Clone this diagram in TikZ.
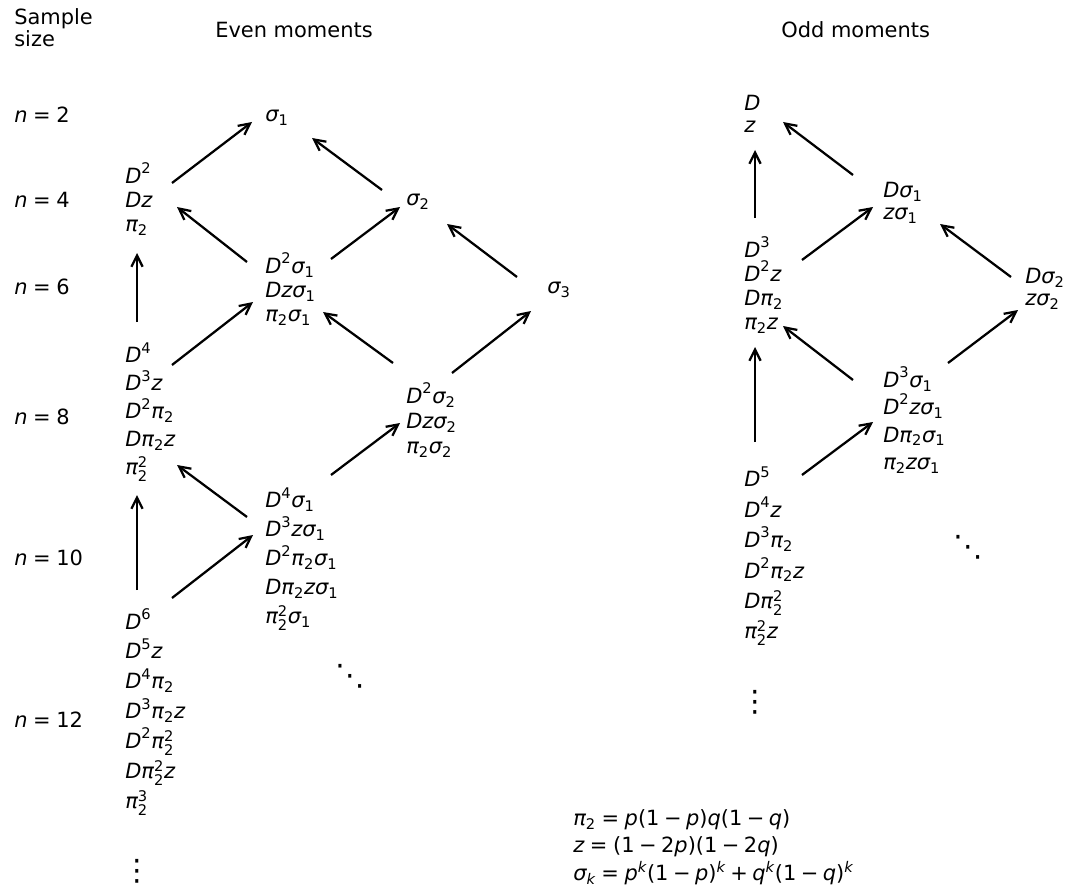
\documentclass[tikz,border=0pt]{standalone}
\usepackage{amsmath}
\usepackage{fontspec}
\setmainfont{DejaVu Sans}[ItalicFont={DejaVu Sans Oblique}]
\usetikzlibrary{arrows.meta}
\newcommand{\vD}{\textit{D}}
\newcommand{\vz}{\textit{z}}
\newcommand{\vn}{\textit{n}}
\newcommand{\vp}{\textit{p}}
\newcommand{\vq}{\textit{q}}
\newcommand{\vk}{\textit{k}}
\newcommand{\vpi}{\textit{π}}
\newcommand{\vsig}{\textit{σ}}
\newcommand{\dg}[1]{\textup{#1}}
\newcommand{\mi}{\mathbin{\textup{−}}}
\newcommand{\pl}{\mathbin{\textup{+}}}
\newcommand{\eq}{\mathrel{\textup{=}}}
\newcommand{\lp}{\textup{(}}
\newcommand{\rp}{\textup{)}}
\begin{document}
\begin{tikzpicture}[x=0.025cm, y=-0.025cm,
                    every node/.style = {anchor=west, inner sep=0pt, align=left,
                                         font={\fontsize{14.9}{17.1pt}\selectfont\lineskiplimit=-20pt}},
                    sp/.style = {font={\fontsize{14.9}{#1}\selectfont\lineskiplimit=-20pt}},
                    dots/.style = {anchor=center, font=\fontsize{21}{21}\selectfont},
                    every edge/.style = {draw, line width=1.6pt, -{Straight Barb[length=8pt, width=8pt]}}]
    \useasboundingbox (0,0) rectangle (1065,893);
    \node (size) at (14,28) [sp=15.6pt] {Sample\\size};
    \node (even) at (215,30) {Even moments};
    \node (odd)  at (781,30) {Odd moments};
    \node (n2)  at (14,115) {$\vn \eq \dg{2}$};
    \node (n4)  at (14,200) {$\vn \eq \dg{4}$};
    \node (n6)  at (14,287) {$\vn \eq \dg{6}$};
    \node (n8)  at (14,417) {$\vn \eq \dg{8}$};
    \node (n10) at (14,558) {$\vn \eq \dg{10}$};
    \node (n12) at (14,720) {$\vn \eq \dg{12}$};
    \node (s1)   at (265,118) {$\vsig_{\dg1}$};
    \node (d2)   at (125,199) {$\vD^{\dg2}$\\$\vD\vz$\\$\vpi_{\dg2}$};
    \node (s2)   at (406,202) {$\vsig_{\dg2}$};
    \node (d2s1) at (265,289) {$\vD^{\dg2}\vsig_{\dg1}$\\$\vD\vz\vsig_{\dg1}$\\$\vpi_{\dg2}\vsig_{\dg1}$};
    \node (s3)   at (547,290) {$\vsig_{\dg3}$};
    \node (d4)   at (125,412) [sp=19.9pt] {$\vD^{\dg4}$\\$\vD^{\dg3}\vz$\\$\vD^{\dg2}\vpi_{\dg2}$\\$\vD\vpi_{\dg2}\vz$\\$\vpi_{\dg2}^{\dg2}$};
    \node (d2s2) at (406,420) [sp=17.8pt] {$\vD^{\dg2}\vsig_{\dg2}$\\$\vD\vz\vsig_{\dg2}$\\$\vpi_{\dg2}\vsig_{\dg2}$};
    \node (d4s1) at (265,559) [sp=20.6pt] {$\vD^{\dg4}\vsig_{\dg1}$\\$\vD^{\dg3}\vz\vsig_{\dg1}$\\$\vD^{\dg2}\vpi_{\dg2}\vsig_{\dg1}$\\$\vD\vpi_{\dg2}\vz\vsig_{\dg1}$\\$\vpi_{\dg2}^{\dg2}\vsig_{\dg1}$};
    \node (d6)   at (125,712) [sp=21.3pt] {$\vD^{\dg6}$\\$\vD^{\dg5}\vz$\\$\vD^{\dg4}\vpi_{\dg2}$\\$\vD^{\dg3}\vpi_{\dg2}\vz$\\$\vD^{\dg2}\vpi_{\dg2}^{\dg2}$\\$\vD\vpi_{\dg2}^{\dg2}\vz$\\$\vpi_{\dg2}^{\dg3}$};
    \node (vd1)  at (137,871) [dots] {⋮};
    \node (dd1)  at (350,676) [dots] {⋱};
    \node (o1)   at (744,114) [sp=15.6pt] {$\vD$\\$\vz$};
    \node (os1)  at (883,203) [sp=15.6pt] {$\vD\vsig_{\dg1}$\\$\vz\vsig_{\dg1}$};
    \node (o3)   at (744,285) {$\vD^{\dg3}$\\$\vD^{\dg2}\vz$\\$\vD\vpi_{\dg2}$\\$\vpi_{\dg2}\vz$};
    \node (os2)  at (1025,289) [sp=15.6pt] {$\vD\vsig_{\dg2}$\\$\vz\vsig_{\dg2}$};
    \node (o3s1) at (883,420) [sp=19.4pt] {$\vD^{\dg3}\vsig_{\dg1}$\\$\vD^{\dg2}\vz\vsig_{\dg1}$\\$\vD\vpi_{\dg2}\vsig_{\dg1}$\\$\vpi_{\dg2}\vz\vsig_{\dg1}$};
    \node (o5)   at (744,556) [sp=21.6pt] {$\vD^{\dg5}$\\$\vD^{\dg4}\vz$\\$\vD^{\dg3}\vpi_{\dg2}$\\$\vD^{\dg2}\vpi_{\dg2}\vz$\\$\vD\vpi_{\dg2}^{\dg2}$\\$\vpi_{\dg2}^{\dg2}\vz$};
    \node (vd2)  at (755,702) [dots] {⋮};
    \node (dd2)  at (968,547) [dots] {⋱};
    \node (defs) at (573,847) [sp=19.6pt] {$\vpi_{\dg2} \eq \vp\lp\dg1 \mi \vp\rp\vq\lp\dg1 \mi \vq\rp$\\$\vz \eq \lp\dg1 \mi \dg2\vp\rp\lp\dg1 \mi \dg2\vq\rp$\\$\vsig_{\vk} \eq \vp^{\vk}\lp\dg1 \mi \vp\rp{}^{\vk} \pl \vq^{\vk}\lp\dg1 \mi \vq\rp{}^{\vk}$};
    \draw ([shift={(47,-16)}]d2.west)    edge ([shift={(-13,4)}]s1.west);
    \draw ([shift={(-24,-12)}]s2.west)   edge ([shift={(47,20)}]s1.west);
    \draw ([shift={(-18,-27)}]d2s1.west) edge ([shift={(52,8)}]d2.west);
    \draw ([shift={(66,-30)}]d2s1.west)  edge ([shift={(-6,5)}]s2.west);
    \draw ([shift={(-30,-13)}]s3.west)   edge ([shift={(41,22)}]s2.west);
    \draw ([shift={(12,-90)}]d4.west)    edge ([shift={(12,54)}]d2.west);
    \draw ([shift={(47,-47)}]d4.west)    edge ([shift={(-12,13)}]d2s1.west);
    \draw ([shift={(-13,-57)}]d2s2.west) edge ([shift={(58,23)}]d2s1.west);
    \draw ([shift={(46,-47)}]d2s2.west)  edge ([shift={(-16,21)}]s3.west);
    \draw ([shift={(-18,-42)}]d4s1.west) edge ([shift={(52,53)}]d4.west);
    \draw ([shift={(66,-84)}]d4s1.west)  edge ([shift={(-6,3)}]d2s2.west);
    \draw ([shift={(12,-122)}]d6.west)   edge ([shift={(12,83)}]d4.west);
    \draw ([shift={(47,-114)}]d6.west)   edge ([shift={(-12,-24)}]d4s1.west);
    \draw ([shift={(11,-67)}]o3.west)    edge ([shift={(11,36)}]o1.west);
    \draw ([shift={(-30,-28)}]os1.west)  edge ([shift={(39,8)}]o1.west);
    \draw ([shift={(58,-25)}]o3.west)    edge ([shift={(-10,4)}]os1.west);
    \draw ([shift={(-14,-12)}]os2.west)  edge ([shift={(57,21)}]os1.west);
    \draw ([shift={(-30,-40)}]o3s1.west) edge ([shift={(39,41)}]o3.west);
    \draw ([shift={(65,-57)}]o3s1.west)  edge ([shift={(-7,21)}]os2.west);
    \draw ([shift={(11,-114)}]o5.west)   edge ([shift={(11,62)}]o3.west);
    \draw ([shift={(58,-81)}]o5.west)    edge ([shift={(-10,2)}]o3s1.west);
\end{tikzpicture}
\end{document}
